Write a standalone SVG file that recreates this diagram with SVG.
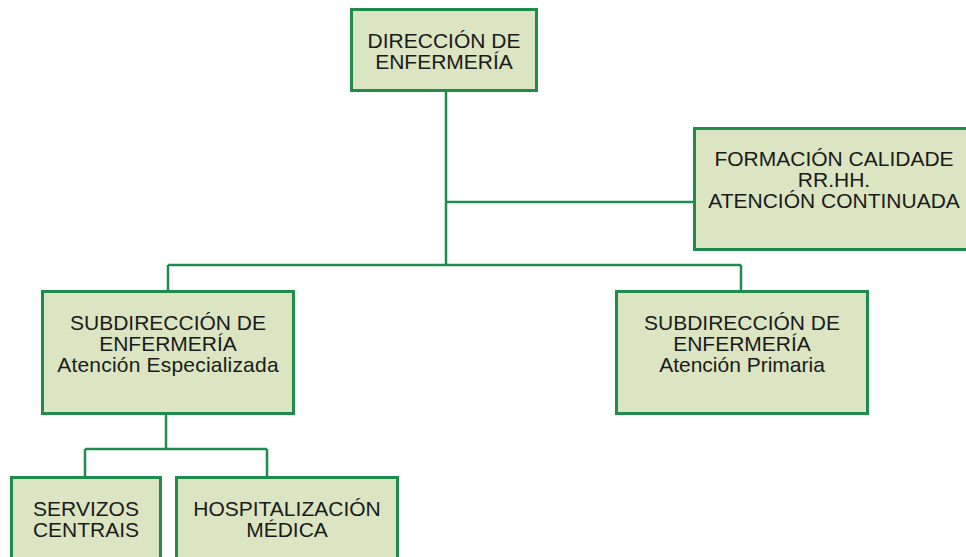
<svg xmlns="http://www.w3.org/2000/svg" width="966" height="557" viewBox="0 0 966 557">
<style>
.box{fill:#dbe5c2;stroke:#1f8b4c;stroke-width:3}
.ln{fill:none;stroke:#1f8b4c;stroke-width:2.5}
text{font-family:"Liberation Sans",Arial,sans-serif;font-size:21px;fill:#1a1a1a;text-anchor:middle}
</style>
<rect width="966" height="557" fill="#ffffff"/>
<g id="connectors">
<path class="ln" d="M446 91V265M446 202H694M168 265H741M168 265V291M741 265V291M166 414V449M85 449H267M85 449V477M267 449V477"/>
</g>
<g id="n1">
<rect class="box" x="351.5" y="9.5" width="185" height="81"/>
<text x="444" y="48">DIRECCIÓN DE</text>
<text x="444" y="69">ENFERMERÍA</text>
</g>
<g id="n2">
<rect class="box" x="694.5" y="128.5" width="275" height="121"/>
<text x="834" y="166">FORMACIÓN CALIDADE</text>
<text x="834" y="187">RR.HH.</text>
<text x="834" y="208">ATENCIÓN CONTINUADA</text>
</g>
<g id="n3">
<rect class="box" x="42.5" y="291.5" width="251" height="122"/>
<text x="168" y="330">SUBDIRECCIÓN DE</text>
<text x="168" y="351">ENFERMERÍA</text>
<text x="168" y="372" letter-spacing="0.2">Atención Especializada</text>
</g>
<g id="n4">
<rect class="box" x="616.5" y="291.5" width="251" height="122"/>
<text x="742" y="330">SUBDIRECCIÓN DE</text>
<text x="742" y="351">ENFERMERÍA</text>
<text x="742" y="372">Atención Primaria</text>
</g>
<g id="n5">
<rect class="box" x="11.5" y="477.5" width="149" height="90"/>
<text x="86" y="516">SERVIZOS</text>
<text x="86" y="537">CENTRAIS</text>
</g>
<g id="n6">
<rect class="box" x="176.5" y="477.5" width="221" height="90"/>
<text x="287" y="516">HOSPITALIZACIÓN</text>
<text x="287" y="537">MÉDICA</text>
</g>
</svg>
